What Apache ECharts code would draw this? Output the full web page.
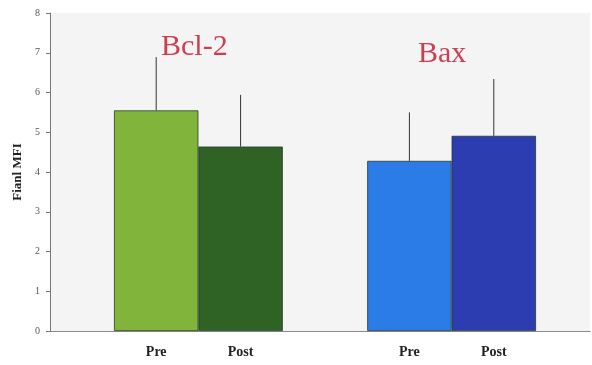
<!DOCTYPE html>
<html>
<head>
<meta charset="utf-8">
<script src="https://cdn.jsdelivr.net/npm/echarts@6/dist/echarts.min.js"></script>
<style>
  html, body { margin: 0; padding: 0; background: #ffffff; }
  #chart { width: 592px; height: 365px; }
</style>
</head>
<body>
<div id="chart"></div>
<script>
// Bar slots: Bcl-2 pre/post, an empty spacer slot, Bax pre/post
const categories = ['Pre', 'Post', '', 'Pre', 'Post'];
const meanMFI = [5.55, 4.64, null, 4.28, 4.91];
const errorTop = [6.89, 5.94, null, 5.5, 6.34];
const barColors = ['#80b43a', '#2f6225', null, '#2b7ce6', '#2b3db0'];
const groupTitles = ['Bcl-2', 'Bax'];
const yTicks = [0, 1, 2, 3, 4, 5, 6, 7, 8];

const serif = '"Liberation Serif", "DejaVu Serif", serif';
const gridTop = 13, gridBottom = 34;

const chart = echarts.init(document.getElementById('chart'));

const barData = meanMFI.map((v, i) => v == null ? null : {
  value: v,
  itemStyle: { color: barColors[i] }
});
const errData = errorTop.map((top, i) => top == null ? null : [i, meanMFI[i], top]);

chart.setOption({
  backgroundColor: '#ffffff',
  animation: false,
  grid: [
    // frame grid: y axis, top and bottom rules
    { left: 50, right: 2, top: gridTop, bottom: gridBottom, backgroundColor: '#f4f4f4', show: true, borderWidth: 0 },
    // bar grid
    { left: 114, right: 56, top: gridTop, bottom: gridBottom }
  ],
  xAxis: [
    { gridIndex: 0, type: 'value', min: 0, max: 1, position: 'bottom',
      axisLine: { show: true, onZero: false, lineStyle: { color: '#666', width: 1 } },
      axisTick: { show: false }, axisLabel: { show: false }, splitLine: { show: false } },
    { gridIndex: 0, type: 'value', min: 0, max: 1, position: 'top',
      axisLine: { show: true, lineStyle: { color: '#8a8a8a', width: 1 } },
      axisTick: { show: false }, axisLabel: { show: false }, splitLine: { show: false } },
    { gridIndex: 1, type: 'category', data: categories, boundaryGap: true,
      axisLine: { show: false }, axisTick: { show: false },
      axisLabel: { color: '#222', fontFamily: serif, fontWeight: 'bold', fontSize: 14, margin: 14 } }
  ],
  yAxis: [
    { gridIndex: 0, type: 'value', min: 0, max: 8, interval: 1,
      name: 'Fianl MFI', nameLocation: 'middle', nameGap: 26,
      nameTextStyle: { fontFamily: serif, fontWeight: 'bold', fontSize: 13, color: '#222' },
      axisLine: { show: true, lineStyle: { color: '#777', width: 1 } },
      axisTick: { show: true, length: 4, lineStyle: { color: '#777' } },
      axisLabel: { color: '#555', fontFamily: serif, fontSize: 10, margin: 10,
        formatter: v => yTicks.includes(v) ? String(v) : '' },
      splitLine: { show: false } },
    { gridIndex: 1, type: 'value', min: 0, max: 8, interval: 1, show: false }
  ],
  series: [
    {
      type: 'bar', xAxisIndex: 2, yAxisIndex: 1,
      data: barData, barWidth: '100%', barGap: '0%',
      itemStyle: { borderColor: '#2a3a2a', borderWidth: 0.8 },
      z: 2
    },
    {
      type: 'custom', xAxisIndex: 2, yAxisIndex: 1,
      data: errData.filter(d => d),
      renderItem: function (params, api) {
        const x = api.value(0);
        const base = api.coord([x, api.value(1)]);
        const top = api.coord([x, api.value(2)]);
        return {
          type: 'line',
          shape: { x1: base[0], y1: base[1], x2: top[0], y2: top[1] },
          style: { stroke: '#333', lineWidth: 1 }
        };
      },
      z: 3
    }
  ],
  graphic: [
    { type: 'text', left: 161, top: 32,
      style: { text: groupTitles[0], fontFamily: serif, fontSize: 30, fill: '#cc3f52' } },
    { type: 'text', left: 418, top: 39,
      style: { text: groupTitles[1], fontFamily: serif, fontSize: 30, fill: '#cc3f52' } }
  ]
});
</script>
</body>
</html>
